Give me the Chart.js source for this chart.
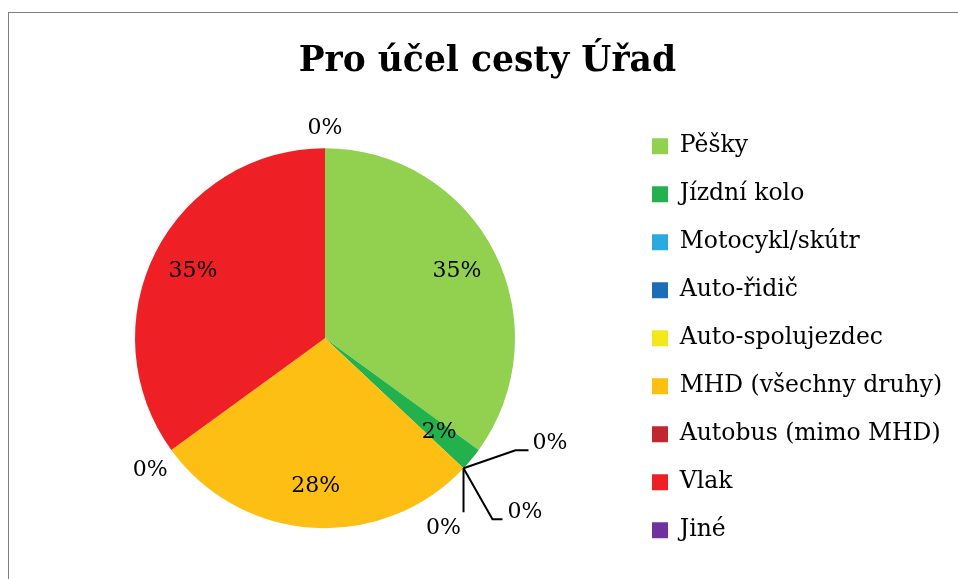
<!DOCTYPE html>
<html>
<head>
<meta charset="utf-8">
<title>Pro účel cesty Úřad</title>
<script src="https://cdn.jsdelivr.net/npm/chart.js@4.4.0/dist/chart.umd.min.js"></script>
<style>
    html, body { margin: 0; padding: 0; background: #fff; overflow: hidden; }
    #wrap {
        position: absolute; left: 8px; top: 12px;
        width: 962px; height: 567px;
        border-left: 1px solid #7f7f7f; border-top: 1px solid #7f7f7f;
    }
</style>
</head>
<body>
<div id="wrap"><canvas id="tripChart"></canvas></div>
<script>
// Podíl způsobů dopravy - účel cesty Úřad
const categories = ['Pěšky', 'Jízdní kolo', 'Motocykl/skútr', 'Auto-řidič', 'Auto-spolujezdec',
    'MHD (všechny druhy)', 'Autobus (mimo MHD)', 'Vlak', 'Jiné'];
const shares = [35, 2, 0, 0, 0, 28, 0, 35, 0];
const sliceColors = ['#92d050', '#22b14c', '#29abe2', '#1b6db6', '#f2e81b',
    '#fdbf14', '#c1272d', '#ee1f25', '#7030a0'];

const FONT = '"DejaVu Serif", serif';

// Popisky nulových výsečí: odsazení od okraje koláče (vodicí čára + text)
const zeroCallouts = {
    2: { line: [[52, -18], [65, -18]], text: [69, -25], align: 'left' },
    3: { line: [[29, 51], [39, 51]], text: [44, 44], align: 'left' },
    4: { line: [[0, 44]], text: [-20, 60], align: 'center' },
    6: { line: null, text: [-21, 20], align: 'center' },
    8: { line: null, text: [0, -20], align: 'center' }
};

const sliceLabels = {
    id: 'sliceLabels',
    afterDatasetsDraw(chart) {
        const ctx = chart.ctx;
        const meta = chart.getDatasetMeta(0);
        ctx.save();
        ctx.font = '22px ' + FONT;
        ctx.fillStyle = '#000';
        ctx.strokeStyle = '#000';
        ctx.lineWidth = 2;
        ctx.textBaseline = 'middle';
        meta.data.forEach(function(arc, i) {
            const p = arc.getProps(['x', 'y', 'startAngle', 'endAngle', 'outerRadius'], true);
            const mid = (p.startAngle + p.endAngle) / 2;
            const text = shares[i] + '%';
            if (shares[i] > 0) {
                const r = p.outerRadius * 0.78;
                ctx.textAlign = 'center';
                ctx.fillText(text, p.x + Math.cos(mid) * r, p.y + Math.sin(mid) * r);
                return;
            }
            const ex = p.x + Math.cos(mid) * p.outerRadius;
            const ey = p.y + Math.sin(mid) * p.outerRadius;
            const c = zeroCallouts[i];
            if (!c) return;
            if (c.line) {
                ctx.beginPath();
                ctx.moveTo(ex, ey);
                c.line.forEach(function(pt) { ctx.lineTo(ex + pt[0], ey + pt[1]); });
                ctx.stroke();
            }
            ctx.textAlign = c.align;
            ctx.fillText(text, ex + c.text[0], ey + c.text[1]);
        });
        ctx.restore();
    }
};

new Chart(document.getElementById('tripChart'), {
    type: 'pie',
    data: {
        labels: categories,
        datasets: [{
            data: shares,
            backgroundColor: sliceColors,
            borderWidth: 0,
            radius: 190
        }]
    },
    options: {
        responsive: true,
        maintainAspectRatio: false,
        animation: false,
        events: [],
        layout: { padding: { left: 13.5, right: 18.8, top: 0, bottom: 3 } },
        plugins: {
            title: {
                display: true,
                text: 'Pro účel cesty Úřad',
                color: '#000',
                font: { family: FONT, size: 34.5, weight: 'bold' },
                padding: { top: 28, bottom: 17 }
            },
            legend: {
                position: 'right',
                fullSize: false,
                labels: {
                    color: '#000',
                    boxWidth: 16,
                    boxHeight: 16,
                    padding: 24.5,
                    font: { family: FONT, size: 23.5 }
                }
            },
            tooltip: { enabled: false }
        }
    },
    plugins: [sliceLabels]
});
</script>
</body>
</html>
